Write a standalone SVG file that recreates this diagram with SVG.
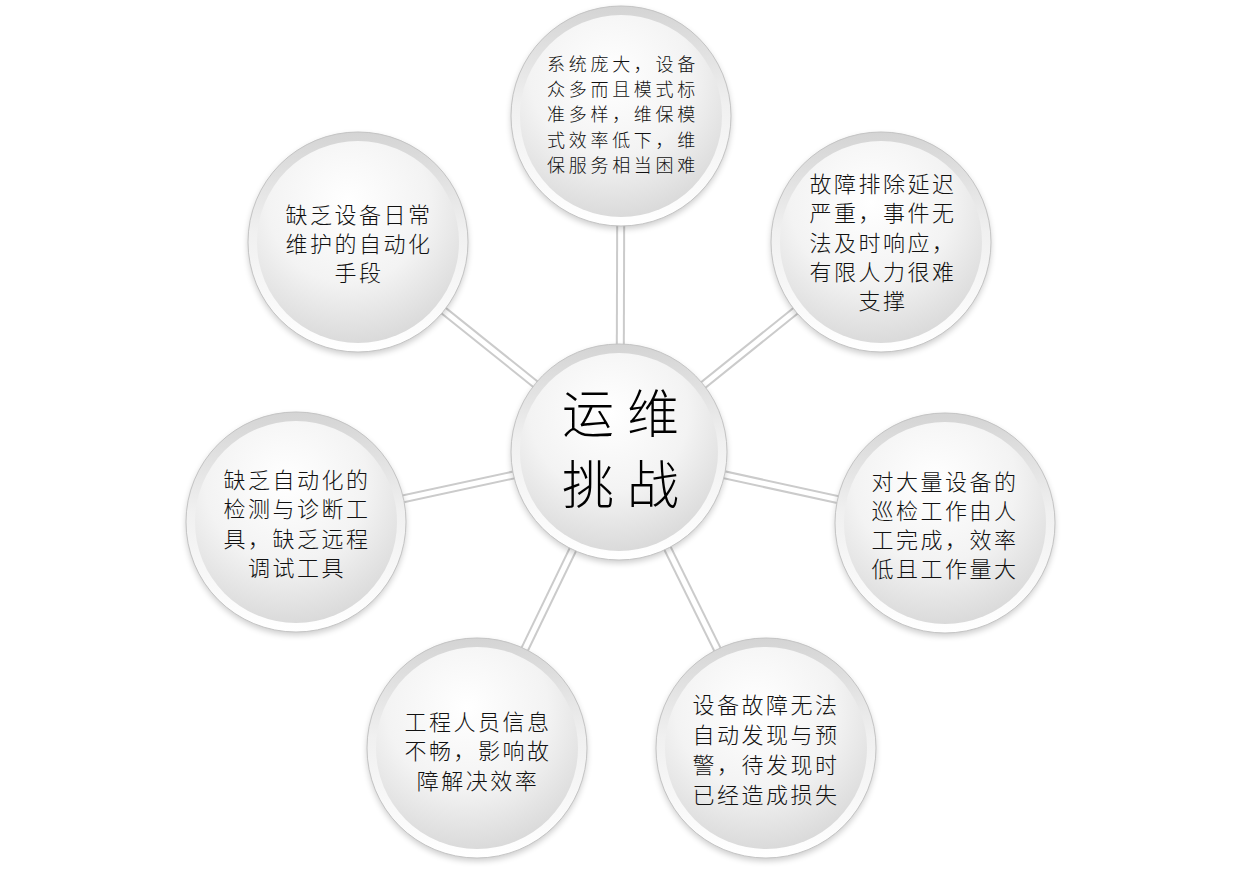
<svg xmlns="http://www.w3.org/2000/svg" width="1240" height="873" viewBox="0 0 1240 873">
<defs>
<linearGradient id="ring" x1="0" y1="0" x2="0" y2="1">
<stop offset="0" stop-color="#d4d4d4"/>
<stop offset="0.45" stop-color="#f0f0f0"/>
<stop offset="1" stop-color="#ffffff"/>
</linearGradient>
<radialGradient id="face" cx="0.45" cy="0.3" r="0.8">
<stop offset="0" stop-color="#ffffff"/>
<stop offset="0.5" stop-color="#f3f3f3"/>
<stop offset="1" stop-color="#d2d2d2"/>
</radialGradient>
<filter id="sh" x="-20%" y="-20%" width="140%" height="140%">
<feGaussianBlur stdDeviation="3"/>
</filter>
<symbol id="ball" overflow="visible">
<circle cx="0" cy="3" r="110" fill="#000" opacity="0.2" filter="url(#sh)"/>
<circle cx="0" cy="0" r="110" fill="url(#ring)" stroke="#c4c4c4" stroke-width="1"/>
<circle cx="0" cy="0" r="101" fill="url(#face)"/>
</symbol>
</defs>
<style>
.t{font-family:"Noto Sans CJK SC","Noto Sans",sans-serif;font-weight:300;font-size:22px;letter-spacing:2.5px;fill:#111;text-anchor:middle;dominant-baseline:central}
.s{font-size:18px;letter-spacing:3.7px}
.c{font-family:"Noto Sans CJK SC","Noto Sans",sans-serif;font-weight:300;font-size:52px;letter-spacing:13px;fill:#000;text-anchor:middle;dominant-baseline:central}
.lo{stroke:#cbcbcb;stroke-width:9}
.li{stroke:#ffffff;stroke-width:5}
</style>
<rect width="1240" height="873" fill="#ffffff"/>
<g id="connectors">
<line class="lo" x1="620" y1="452" x2="621" y2="116"/>
<line class="lo" x1="620" y1="452" x2="881" y2="242"/>
<line class="lo" x1="620" y1="452" x2="945" y2="523"/>
<line class="lo" x1="620" y1="452" x2="766" y2="748"/>
<line class="lo" x1="620" y1="452" x2="477" y2="748"/>
<line class="lo" x1="620" y1="452" x2="296" y2="522"/>
<line class="lo" x1="620" y1="452" x2="358" y2="242"/>
<line class="li" x1="620" y1="452" x2="621" y2="116"/>
<line class="li" x1="620" y1="452" x2="881" y2="242"/>
<line class="li" x1="620" y1="452" x2="945" y2="523"/>
<line class="li" x1="620" y1="452" x2="766" y2="748"/>
<line class="li" x1="620" y1="452" x2="477" y2="748"/>
<line class="li" x1="620" y1="452" x2="296" y2="522"/>
<line class="li" x1="620" y1="452" x2="358" y2="242"/>
</g>
<g id="node-top">
<use href="#ball" x="621" y="116"/>
<text class="t s" x="623" y="63">系统庞大，设备</text>
<text class="t s" x="623" y="88">众多而且模式标</text>
<text class="t s" x="623" y="113">准多样，维保模</text>
<text class="t s" x="623" y="139">式效率低下，维</text>
<text class="t s" x="623" y="164">保服务相当困难</text>
</g>
<g id="node-topright">
<use href="#ball" x="881" y="242"/>
<text class="t" x="883" y="182">故障排除延迟</text>
<text class="t" x="883" y="211">严重，事件无</text>
<text class="t" x="883" y="241">法及时响应，</text>
<text class="t" x="883" y="270">有限人力很难</text>
<text class="t" x="883" y="299">支撑</text>
</g>
<g id="node-right">
<use href="#ball" x="945" y="523"/>
<text class="t" x="945" y="480">对大量设备的</text>
<text class="t" x="945" y="509">巡检工作由人</text>
<text class="t" x="945" y="538">工完成，效率</text>
<text class="t" x="945" y="567">低且工作量大</text>
</g>
<g id="node-bottomright">
<use href="#ball" x="766" y="748"/>
<text class="t" x="766" y="703">设备故障无法</text>
<text class="t" x="766" y="733">自动发现与预</text>
<text class="t" x="766" y="763">警，待发现时</text>
<text class="t" x="766" y="793">已经造成损失</text>
</g>
<g id="node-bottomleft">
<use href="#ball" x="477" y="748"/>
<text class="t" x="478" y="720">工程人员信息</text>
<text class="t" x="478" y="749">不畅，影响故</text>
<text class="t" x="478" y="779">障解决效率</text>
</g>
<g id="node-left">
<use href="#ball" x="296" y="522"/>
<text class="t" x="297" y="478">缺乏自动化的</text>
<text class="t" x="297" y="507">检测与诊断工</text>
<text class="t" x="297" y="537">具，缺乏远程</text>
<text class="t" x="297" y="566">调试工具</text>
</g>
<g id="node-topleft">
<use href="#ball" x="358" y="242"/>
<text class="t" x="359" y="213">缺乏设备日常</text>
<text class="t" x="359" y="242">维护的自动化</text>
<text class="t" x="359" y="271">手段</text>
</g>
<g id="node-center">
<circle cx="619" cy="455" r="108" fill="#000" opacity="0.2" filter="url(#sh)"/>
<circle cx="619" cy="452" r="108" fill="url(#ring)" stroke="#c4c4c4" stroke-width="1"/>
<circle cx="619" cy="452" r="99" fill="url(#face)"/>
<text class="c" x="627" y="410">运维</text>
<text class="c" x="627" y="481">挑战</text>
</g>
</svg>
